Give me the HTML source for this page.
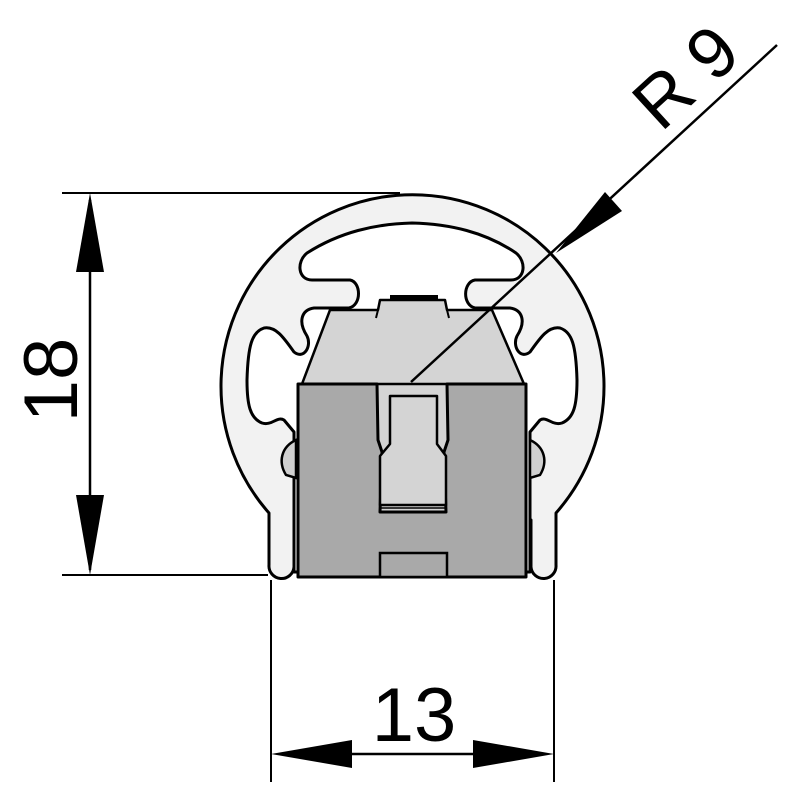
<!DOCTYPE html>
<html><head><meta charset="utf-8"><style>
html,body{margin:0;padding:0;background:#fff;width:800px;height:800px;overflow:hidden}
svg{display:block}
text{font-family:"Liberation Sans",Arial,sans-serif;fill:#000}
</style></head><body>
<svg width="800" height="800" viewBox="0 0 800 800" xmlns="http://www.w3.org/2000/svg">
<path d="M269,513 A191.5,191.5 0 1 1 556,513 L556,565 A12,12 0 0 1 531,567 L531,520 L294,520 L294,567 A12.5,12.5 0 0 1 269,565 Z" fill="#f2f2f2" stroke="#000" stroke-width="3" stroke-linejoin="round"/>
<path d="M350,280 L312,280 C298,280 296,262 307,253 C340,232 375,224 412,223 C450,224 485,232 516,253 C527,262 525,280 511,280 L475,280 C463,282 462,305 475,308 L510,308 C523,310 526,322 517,336 C512,346 520,360 530,352 C540,338 548,326 560,328 C572,332 576,345 577,380 C577,405 574,418 562,423 C552,426 547,416 540,420 L530,432 L530,572 L294,572 L294,432 L284,420 C277,416 272,426 262,423 C250,418 247,405 247,380 C248,345 252,332 264,328 C276,326 284,338 294,352 C304,360 312,346 307,336 C298,322 301,310 314,308 L349,308 C362,305 361,282 350,280 Z" fill="#fff" stroke="#000" stroke-width="3" stroke-linejoin="round"/>
<path d="M530,440 C545,447 548,462 540,475 L530,478 Z" fill="#d0d0d0" stroke="#000" stroke-width="2.5"/>
<path d="M296,440 C281,447 278,462 286,475 L296,478 Z" fill="#d0d0d0" stroke="#000" stroke-width="2.5"/>
<rect x="376" y="380" width="74" height="134" fill="#d4d4d4"/>
<path d="M302,384 L330,310 L378,310 L380,300 L445,300 L447,310 L492,310 L524,384 Z" fill="#d4d4d4" stroke="#000" stroke-width="2.5" stroke-linejoin="round"/>
<rect x="390" y="295" width="48" height="5" fill="#000"/>
<path d="M378,310 L376,318 M447,310 L449,318" stroke="#000" stroke-width="2"/>
<path d="M298,384 L377,384 L378,440 L382,452 L380,512 L446,512 L444,452 L448,440 L447,384 L526,384 L526,577 L298,577 Z" fill="#a9a9a9" stroke="#000" stroke-width="3" stroke-linejoin="round"/>
<path d="M390,396 L437,396 L437,444 L446,456 L446,505 L380,505 L380,456 L390,444 Z" fill="#d4d4d4" stroke="#000" stroke-width="2.5" stroke-linejoin="round"/>
<line x1="380" y1="508" x2="446" y2="508" stroke="#000" stroke-width="1.5"/>
<rect x="380" y="553" width="67" height="24" fill="#a9a9a9" stroke="#000" stroke-width="2.5"/>
<line x1="62" y1="193" x2="400" y2="193" stroke="#000" stroke-width="2"/>
<line x1="62" y1="575" x2="268" y2="575" stroke="#000" stroke-width="2"/>
<line x1="271" y1="580" x2="271" y2="782" stroke="#000" stroke-width="2"/>
<line x1="554" y1="580" x2="554" y2="782" stroke="#000" stroke-width="2"/>
<line x1="90" y1="200" x2="90" y2="570" stroke="#000" stroke-width="2.5"/>
<polygon points="90,193 76,272 104,272" fill="#000"/>
<polygon points="90,575 76,495 104,495" fill="#000"/>
<text x="0" y="0" font-size="76" text-anchor="middle" transform="translate(77,380) rotate(-90)">18</text>
<line x1="280" y1="754" x2="545" y2="754" stroke="#000" stroke-width="2.5"/>
<polygon points="271,754 352,740 352,768" fill="#000"/>
<polygon points="554,754 473,740 473,768" fill="#000"/>
<text x="414" y="741" font-size="76" text-anchor="middle">13</text>
<line x1="411" y1="382" x2="777" y2="45" stroke="#000" stroke-width="2.5"/>
<polygon points="556,253 605,192 622,211" fill="#000"/>
<text x="0" y="0" font-size="72" transform="translate(661,133) rotate(-42.5)">R 9</text>
</svg>
</body></html>
